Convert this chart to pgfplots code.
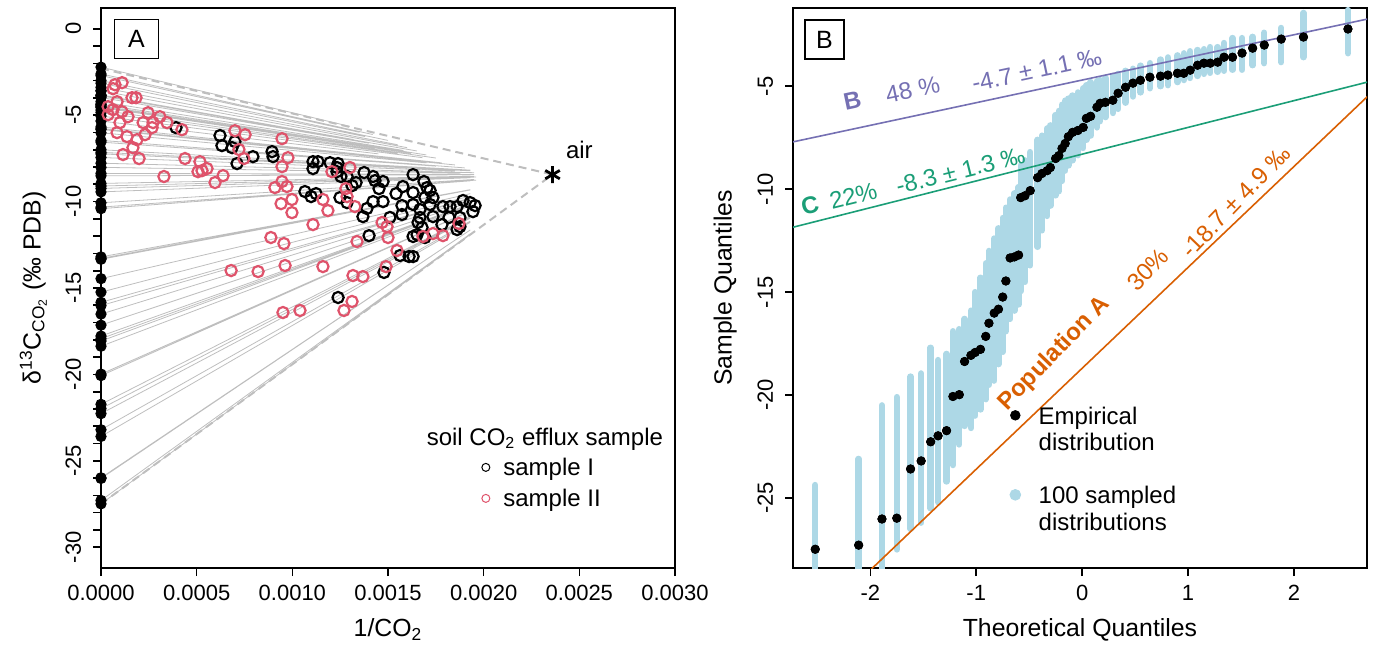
\documentclass[border=0pt]{standalone}
\usepackage{fontspec}
\setmainfont{Liberation Sans}
\usepackage{pgfplots}
\usepackage{pgfplotstable}
\pgfplotsset{compat=1.18}

\definecolor{rred}{HTML}{DF536B}
\definecolor{lblue}{HTML}{ADD8E6}
\definecolor{lgray}{HTML}{BEBEBE}
\definecolor{dpurple}{HTML}{7570B3}
\definecolor{dgreen}{HTML}{1B9E77}
\definecolor{dorange}{HTML}{D95F02}

\newcommand{\tickfont}{\fontsize{11}{13}\selectfont}
\newcommand{\labfont}{\fontsize{12.4}{14}\selectfont}
\newcommand{\txtfont}{\fontsize{12}{14}\selectfont}

% empirical quantiles (x = theoretical, y = sample) and range of the 100 resampled sets
\pgfplotstableread{
x y lo hi
-2.52 -27.49 -28.5 -24.37
-2.11 -27.29 -28.5 -23.1
-1.89 -26.02 -28.5 -20.5
-1.75 -25.98 -27.5 -20.1
-1.62 -23.59 -26.5 -19.1
-1.52 -23.20 -26.2 -18.95
-1.43 -22.27 -25.5 -17.7
-1.36 -21.98 -25.2 -18.3
-1.28 -21.73 -24.2 -18.0
-1.22 -20.07 -23.4 -16.9
-1.16 -19.98 -22.4 -16.8
-1.11 -18.37 -21.5 -16.3
-1.05 -18.07 -21.6 -15.9
-1.01 -17.93 -21.0 -15.0
-0.96 -17.78 -20.7 -14.3
-0.91 -17.15 -20.2 -13.6
-0.88 -16.51 -19.5 -13.0
-0.83 -16.02 -19.3 -12.4
-0.79 -15.83 -18.5 -11.9
-0.75 -15.24 -17.9 -11.4
-0.72 -14.46 -16.9 -10.9
-0.68 -13.34 -16.3 -10.5
-0.64 -13.29 -15.9 -10.2
-0.60 -13.20 -15.6 -9.9
-0.58 -10.41 -14.95 -8.85
-0.54 -10.32 -14.5 -8.6
-0.49 -10.07 -13.7 -8.2
-0.42 -9.44 -12.8 -7.6
-0.38 -9.24 -12.0 -7.4
-0.33 -9.10 -11.3 -7.05
-0.30 -8.95 -10.8 -6.9
-0.25 -8.51 -10.3 -6.4
-0.22 -8.37 -10.1 -6.2
-0.19 -8.02 -9.6 -5.9
-0.16 -7.78 -9.1 -5.7
-0.13 -7.45 -8.85 -5.6
-0.09 -7.24 -8.6 -5.45
-0.04 -7.15 -8.35 -5.3
0.01 -7.00 -8.0 -5.1
0.04 -6.56 -7.6 -4.95
0.08 -6.46 -7.4 -4.8
0.14 -6.02 -7.0 -4.75
0.17 -5.83 -6.7 -4.7
0.22 -5.78 -6.5 -4.6
0.29 -5.68 -6.3 -4.5
0.34 -5.34 -6.1 -4.4
0.41 -5.05 -5.8 -4.25
0.48 -4.85 -5.5 -4.15
0.55 -4.71 -5.3 -4.0
0.64 -4.56 -5.1 -3.88
0.74 -4.51 -5.0 -3.7
0.81 -4.46 -4.95 -3.6
0.90 -4.37 -4.8 -3.5
0.96 -4.37 -4.7 -3.4
1.02 -4.22 -4.6 -3.3
1.09 -3.98 -4.5 -3.24
1.15 -3.88 -4.4 -3.2
1.21 -3.88 -4.35 -3.1
1.28 -3.83 -4.3 -3.1
1.34 -3.59 -4.25 -2.9
1.42 -3.59 -4.2 -2.66
1.51 -3.39 -4.2 -2.66
1.61 -3.15 -3.98 -2.6
1.72 -3.00 -3.88 -2.4
1.88 -2.71 -3.83 -2.17
2.09 -2.61 -3.59 -1.44
2.51 -2.22 -3.4 -1.3
}\qqdata

\pgfplotsset{
  rstyle/.style={
    scale only axis, height=280pt,
    axis line style={line width=0.9pt},
    tick style={line width=0.8pt, black},
    tick align=outside, major tick length=4pt, minor tick length=4pt,
    tick pos=left,
    tick label style={font=\tickfont},
    yticklabel style={rotate=90, anchor=south},
    yticklabel shift=2.4pt, xticklabel shift=1pt,
    every axis y label/.style={at={(axis description cs:-0.118,0.5)}, rotate=90, anchor=center, font=\labfont},
    every axis x label/.style={at={(axis description cs:0.5,-0.11)}, anchor=center, font=\labfont},
    legend cell align=left,
    legend image code/.code={\path (-6pt,0pt) (6pt,0pt); \draw[##1] plot coordinates {(0pt,0pt)};},
  },
}

\begin{document}
\begin{tikzpicture}
\useasboundingbox (-50.5pt,-42.5pt) rectangle (637pt,284pt);

% ---------------- panel A ----------------
\begin{axis}[rstyle, name=A, at={(0pt,0pt)}, anchor=south west,
  width=287pt, xmin=0, xmax=0.003, ymin=-31.2, ymax=1.2, clip=false,
  scaled x ticks=false,
  xtick={0,0.0005,0.001,0.0015,0.002,0.0025,0.003},
  xticklabels={0.0000,0.0005,0.0010,0.0015,0.0020,0.0025,0.0030},
  ytick={-30,-25,-20,-15,-10,-5,0},
  yticklabels={-30,-25,-20,-15,-10,-5,0},
  minor y tick num=4,
  xlabel={1/CO\textsubscript{2}},
  ylabel={δ\textsuperscript{13}C\textsubscript{CO\textsubscript{2}} (‰ PDB)},
  legend style={draw=none, fill=none, inner sep=0pt, row sep=2pt,
    at={(axis description cs:0.648,0.2045)}, anchor=north west, font=\txtfont,
    nodes={text height=11pt, text depth=2.5pt, inner ysep=0pt, inner xsep=2.5pt}},
]
% mixing lines from each intercept towards its last sample
\addplot[forget plot, lgray, line width=0.4pt, unbounded coords=jump] coordinates {
(0,-27.49) (0.00193,-11.91) (0,nan) (0,-27.29) (0.00193,-11.87) (0,nan)
(0,-26.02) (0.00193,-11.64) (0,nan) (0,-25.98) (0.00193,-11.64) (0,nan)
(0,-23.59) (0.00193,-11.20) (0,nan) (0,-23.20) (0.00193,-11.13) (0,nan)
(0,-22.27) (0.00193,-10.96) (0,nan) (0,-21.98) (0.00193,-10.91) (0,nan)
(0,-21.73) (0.00193,-10.86) (0,nan) (0,-20.07) (0.00193,-10.56) (0,nan)
(0,-19.98) (0.00193,-10.54) (0,nan) (0,-18.37) (0.00193,-10.25) (0,nan)
(0,-18.07) (0.00193,-10.19) (0,nan) (0,-17.93) (0.00193,-10.17) (0,nan)
(0,-17.78) (0.00193,-10.14) (0,nan) (0,-17.15) (0.00193,-10.03) (0,nan)
(0,-16.51) (0.00193,-9.91) (0,nan) (0,-16.02) (0.00193,-9.82) (0,nan)
(0,-15.83) (0.00193,-9.79) (0,nan) (0,-15.24) (0.00193,-9.68) (0,nan)
(0,-14.46) (0.00193,-9.54) (0,nan) (0,-13.34) (0.00193,-9.33) (0,nan)
(0,-13.29) (0.00193,-9.32) (0,nan) (0,-13.20) (0.00193,-9.31) (0,nan)
(0,-10.41) (0.00193,-8.80) (0,nan) (0,-10.32) (0.00196,-8.76) (0,nan)
(0,-10.07) (0.00195,-8.72) (0,nan) (0,-9.44) (0.00193,-8.62) (0,nan)
(0,-9.24) (0.00196,-8.58) (0,nan) (0,-9.10) (0.00190,-8.57) (0,nan)
(0,-8.95) (0.00195,-8.53) (0,nan) (0,-8.51) (0.00193,-8.45) (0,nan)
(0,-8.37) (0.00195,-8.43) (0,nan) (0,-8.02) (0.00188,-8.35) (0,nan)
(0,-7.78) (0.00195,-8.33) (0,nan) (0,-7.45) (0.00185,-8.23) (0,nan)
(0,-7.24) (0.00193,-8.22) (0,nan) (0,-7.15) (0.00180,-8.13) (0,nan)
(0,-7.00) (0.00193,-8.18) (0,nan) (0,-6.56) (0.00175,-7.95) (0,nan)
(0,-6.46) (0.00190,-8.05) (0,nan) (0,-6.02) (0.00170,-7.76) (0,nan)
(0,-5.83) (0.00185,-7.88) (0,nan) (0,-5.78) (0.00160,-7.58) (0,nan)
(0,-5.68) (0.00178,-7.76) (0,nan) (0,-5.34) (0.00145,-7.24) (0,nan)
(0,-5.05) (0.00168,-7.46) (0,nan) (0,-4.85) (0.00155,-7.21) (0,nan)
(0,-4.71) (0.00175,-7.48) (0,nan) (0,-4.56) (0.00143,-6.91) (0,nan)
(0,-4.51) (0.00162,-7.21) (0,nan) (0,-4.46) (0.00150,-6.99) (0,nan)
(0,-4.37) (0.00170,-7.30) (0,nan) (0,-4.37) (0.00136,-6.71) (0,nan)
(0,-4.22) (0.00158,-7.04) (0,nan) (0,-3.98) (0.00140,-6.62) (0,nan)
(0,-3.88) (0.00165,-7.07) (0,nan) (0,-3.88) (0.00148,-6.74) (0,nan)
(0,-3.83) (0.00132,-6.41) (0,nan) (0,-3.59) (0.00160,-6.88) (0,nan)
(0,-3.59) (0.00145,-6.57) (0,nan) (0,-3.39) (0.00155,-6.71) (0,nan)
(0,-3.15) (0.00138,-6.24) (0,nan) (0,-3.00) (0.00150,-6.46) (0,nan)
(0,-2.71) (0.00135,-5.99) (0,nan) (0,-2.61) (0.00142,-6.12) (0,nan)
(0,-2.22) (0.00130,-5.65)
};
% bounding mixing lines
\addplot[forget plot, lgray, line width=1pt, dash pattern=on 4pt off 2.5pt] coordinates {(0,-2.3) (0.00236,-8.44)};
\addplot[forget plot, lgray, line width=1pt, dash pattern=on 4pt off 2.5pt] coordinates {(0,-27.49) (0.00236,-8.44)};
% intercepts
\addplot[forget plot, only marks, mark=*, mark size=2.6pt, black] table[x expr=0, y=y] {\qqdata};
% sample I
\addplot[forget plot, only marks, mark=o, mark size=2.8pt, line width=1.1pt, black] coordinates {
(0.000392,-5.72) (0.000622,-6.18) (0.000632,-6.76) (0.000685,-6.88) (0.000700,-6.53)
(0.000711,-7.80) (0.000794,-7.40) (0.000894,-7.11) (0.000899,-7.40) (0.001108,-7.69)
(0.001134,-7.69) (0.001108,-8.09) (0.001197,-7.75) (0.001233,-8.03) (0.001239,-7.80)
(0.001233,-8.27) (0.001254,-8.55) (0.001286,-8.55) (0.001312,-9.08) (0.001333,-8.90)
(0.001375,-8.32) (0.001422,-8.55) (0.001432,-8.79) (0.001474,-8.84) (0.001453,-9.25)
(0.001066,-9.42) (0.001098,-9.71) (0.001124,-9.54) (0.001249,-9.77) (0.001286,-10.06)
(0.001422,-10.00) (0.001474,-10.00) (0.001390,-10.40) (0.001369,-10.87) (0.001510,-10.92)
(0.001542,-9.54) (0.001578,-9.13) (0.001631,-8.44) (0.001631,-9.48) (0.001688,-8.84)
(0.001704,-9.19) (0.001720,-9.36) (0.001693,-9.77) (0.001735,-9.77) (0.001573,-10.23)
(0.001631,-10.17) (0.001573,-10.75) (0.001667,-10.46) (0.001720,-10.17) (0.001667,-10.92)
(0.001657,-11.21) (0.001678,-11.50) (0.001631,-12.02) (0.001652,-11.91) (0.001693,-12.08)
(0.001401,-11.97) (0.001563,-13.12) (0.001610,-13.18) (0.001631,-13.18) (0.001479,-14.10)
(0.001239,-15.55) (0.001782,-11.33) (0.001787,-10.29) (0.001824,-10.29) (0.001861,-10.29)
(0.001892,-9.94) (0.001929,-10.06) (0.001955,-10.23) (0.001944,-10.58) (0.001876,-11.45)
(0.001876,-10.92) (0.001861,-11.62) (0.001819,-10.92) (0.001735,-10.87)
};
% sample II
\addplot[forget plot, only marks, mark=o, mark size=2.8pt, line width=1.1pt, rred] coordinates {
(0.000073,-3.24) (0.000110,-3.12) (0.000063,-3.47) (0.000162,-3.99) (0.000183,-3.99)
(0.000084,-4.22) (0.000037,-4.51) (0.000063,-4.68) (0.000110,-4.80) (0.000037,-4.97)
(0.000141,-5.09) (0.000246,-4.86) (0.000308,-5.09) (0.000220,-5.43) (0.000272,-5.43)
(0.000099,-5.43) (0.000345,-5.43) (0.000267,-5.72) (0.000084,-6.01) (0.000136,-6.24)
(0.000230,-6.13) (0.000423,-5.84) (0.000188,-6.42) (0.000167,-6.88) (0.000115,-7.28)
(0.000199,-7.51) (0.000439,-7.51) (0.000329,-8.55) (0.000517,-7.69) (0.000528,-8.21)
(0.000554,-8.09) (0.000507,-8.27) (0.000638,-8.50) (0.000596,-8.90) (0.000700,-5.90)
(0.000753,-6.13) (0.000721,-6.99) (0.000747,-7.51) (0.000946,-6.36) (0.000977,-7.46)
(0.000946,-7.98) (0.000909,-9.19) (0.000946,-8.84) (0.000972,-9.13) (0.000998,-9.88)
(0.000941,-10.12) (0.000998,-10.64) (0.001160,-9.88) (0.001186,-10.52) (0.001207,-8.27)
(0.001108,-11.33) (0.000888,-12.08) (0.000956,-12.43) (0.000821,-14.05) (0.000962,-13.70)
(0.001160,-13.76) (0.001301,-8.03) (0.001280,-9.25) (0.001286,-9.71) (0.001327,-10.29)
(0.001338,-12.31) (0.001469,-11.21) (0.001495,-11.45) (0.001500,-12.08) (0.001547,-12.83)
(0.001490,-13.76) (0.001317,-14.28) (0.001369,-14.34) (0.001312,-15.78) (0.001270,-16.30)
(0.001040,-16.30) (0.000951,-16.42) (0.001683,-12.02) (0.001735,-11.85) (0.001787,-11.97)
(0.001871,-11.27) (0.000680,-13.99)
};
% air end member
\addplot[forget plot, only marks, mark=asterisk, mark size=4.2pt, line width=1.4pt, black] coordinates {(0.00236,-8.44)};
\node[font=\txtfont, anchor=base] at (axis cs:0.0025,-7.5) {air};
\node[font=\txtfont, anchor=base] at (axis cs:0.00232,-24.1) {soil CO\textsubscript{2} efflux sample};
\node[draw, line width=0.8pt, minimum width=22pt, minimum height=19.5pt, inner sep=0pt,
  font=\fontsize{12.5}{14}\selectfont] at (rel axis cs:0.0618,0.9446) {A};
\addlegendimage{only marks, mark=o, mark size=2pt, line width=0.5pt, black}
\addlegendentry{sample I}
\addlegendimage{only marks, mark=o, mark size=2pt, line width=0.5pt, rred}
\addlegendentry{sample II}
\end{axis}

% ---------------- panel B ----------------
\begin{axis}[rstyle, name=B, at={(346pt,0pt)}, anchor=south west,
  width=287pt, xmin=-2.73, xmax=2.69, ymin=-28.4, ymax=-1.2,
  xtick={-2,-1,0,1,2}, xticklabels={-2,-1,0,1,2},
  ytick={-25,-20,-15,-10,-5}, yticklabels={-25,-20,-15,-10,-5},
  xlabel={Theoretical Quantiles}, ylabel={Sample Quantiles},
  legend style={draw=none, fill=none, inner sep=0pt, row sep=0pt,
    at={(axis description cs:0.365,0.297)}, anchor=north west, font=\txtfont,
    nodes={text height=11pt, text depth=2.25pt, inner ysep=0pt, inner xsep=5.5pt}},
]
\addplot[forget plot, only marks, mark=none,
  error bars/.cd, y dir=both, y explicit, error mark=none,
  error bar style={lblue, line width=3.2pt, line cap=round}]
  table[x=x, y=y, y error plus expr=\thisrow{hi}-\thisrow{y}, y error minus expr=\thisrow{y}-\thisrow{lo}] {\qqdata};
\addplot[forget plot, dpurple, line width=0.8pt] coordinates {(-2.8,-7.78) (2.8,-1.62)};
\addplot[forget plot, dgreen, line width=0.8pt] coordinates {(-2.8,-11.94) (2.8,-4.66)};
\addplot[forget plot, dorange, line width=0.8pt] coordinates {(-2.8,-32.42) (2.8,-4.98)};
\addplot[forget plot, only marks, mark=*, mark size=2.1pt, black] table[x=x, y=y] {\qqdata};

\node[font=\txtfont\bfseries, text=dpurple, rotate=12] at (axis cs:-2.17,-5.68) {B};
\node[font=\txtfont, text=dpurple, rotate=12] at (axis cs:-1.60,-5.15) {48 \%};
\node[font=\txtfont, text=dpurple, rotate=12] at (axis cs:-0.43,-4.22) {-4.7 ± 1.1 ‰};
\node[font=\txtfont\bfseries, text=dgreen, rotate=14.1] at (axis cs:-2.57,-10.8) {C};
\node[font=\txtfont, text=dgreen, rotate=14.1] at (axis cs:-2.16,-10.32) {22\%};
\node[font=\txtfont, text=dgreen, rotate=14.1] at (axis cs:-1.15,-9.10) {-8.3 ± 1.3 ‰};
\node[font=\txtfont\bfseries, text=dorange, rotate=46] at (axis cs:-0.26,-18.0) {Population A};
\node[font=\txtfont, text=dorange, rotate=46] at (axis cs:0.62,-13.9) {30\%};
\node[font=\txtfont, text=dorange, rotate=46] at (axis cs:1.45,-10.6) {-18.7 ± 4.9 ‰};
\node[draw, line width=0.8pt, minimum width=19.5pt, minimum height=19.5pt, inner sep=0pt,
  font=\fontsize{12.5}{14}\selectfont] at (rel axis cs:0.0548,0.9438) {B};

\addlegendimage{only marks, mark=*, mark size=2.4pt, black}
\addlegendentry{Empirical}
\addlegendimage{empty legend}
\addlegendentry{distribution}
\addlegendimage{empty legend}
\addlegendentry{}
\addlegendimage{only marks, mark=*, mark size=2.7pt, lblue}
\addlegendentry{100 sampled}
\addlegendimage{empty legend}
\addlegendentry{distributions}
\end{axis}
\end{tikzpicture}
\end{document}
